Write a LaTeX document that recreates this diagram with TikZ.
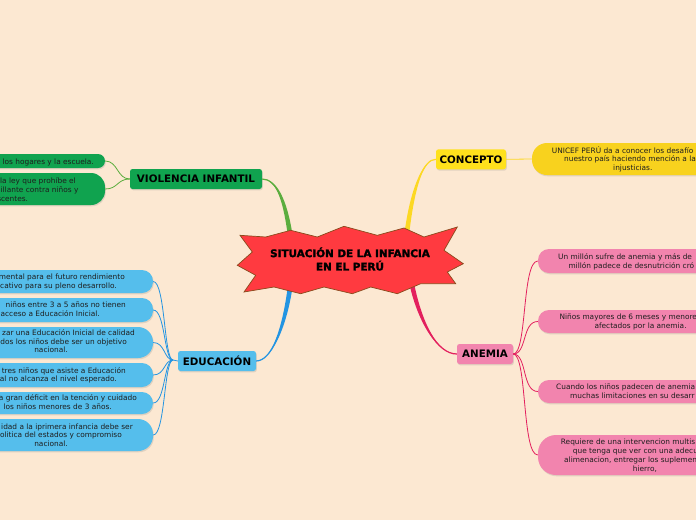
\documentclass[tikz,border=0pt]{standalone}
\usepackage{fontspec}
\setmainfont{DejaVu Sans}
\newfontfamily\starfont{DejaVu Sans}[BoldFeatures={FakeBold=2.2}]
\usetikzlibrary{shadows,calc}
\definecolor{bgc}{HTML}{FCE8D2}
\definecolor{gnode}{HTML}{10A34F}
\definecolor{gline}{HTML}{5BAD3E}
\definecolor{bnode}{HTML}{55BEEC}
\definecolor{bline}{HTML}{2394E2}
\definecolor{ynode}{HTML}{FFE11C}
\definecolor{yleaf}{HTML}{F8D21E}
\definecolor{yline}{HTML}{FCD823}
\definecolor{pnode}{HTML}{F284AE}
\definecolor{pline}{HTML}{E3205E}
\definecolor{starfill}{HTML}{FF3A40}
\definecolor{starline}{HTML}{8A4A1C}
\definecolor{txtc}{HTML}{1E1E1E}
\newcommand\Ltxt[4]{\node[txt,anchor=base east] (#1) at (#2,#3) {#4};}
\newcommand\Rtxt[4]{\node[txt,anchor=base west] (#1) at (#2,#3) {#4};}
\begin{document}
\begin{tikzpicture}[x=1pt,y=-1pt,
  shad/.style={drop shadow={opacity=0.22,shadow xshift=0.8pt,shadow yshift=-1.3pt}},
  leaf/.style={inner sep=0pt,shad},
  branch/.style={inner sep=0pt,rounded corners=2.5pt,shad,text=black,
    font=\fontsize{10.3}{12}\selectfont\bfseries},
  txt/.style={inner sep=0pt,text=txtc,font=\fontsize{7.4}{8}\selectfont},
  thin/.style={line width=0.8pt}]
\useasboundingbox (0,0) rectangle (696,520);
\fill[bgc] (0,0) rectangle (696,520);
\clip (0,0) rectangle (696,520);

% branch nodes
\node[branch,fill=gnode,minimum width=132pt,minimum height=20pt] (vio) at (196,179) {VIOLENCIA INFANTIL};
\node[branch,fill=bnode,minimum width=78pt,minimum height=20pt] (edu) at (217,361) {EDUCACIÓN};
\node[branch,fill=ynode,minimum width=70pt,minimum height=20pt] (co) at (471,159.3) {CONCEPTO};
\node[branch,fill=pnode,minimum width=56pt,minimum height=20pt] (an) at (485,354) {ANEMIA};

% star attachment points
\coordinate (sG) at (290,234);
\coordinate (sY) at (407,232);
\coordinate (sB) at (290,288);
\coordinate (sP) at (412,285);
\coordinate (ej) at (173,360);

% thick tapered connectors
\fill[gline] (vio.east) .. controls (276,179) and (283,200) .. ($(sG)+(-2.4,0)$) -- ($(sG)+(2.4,0)$) .. controls (287,200) and (277,178.5) .. (vio.east) -- cycle;
\draw[gline,line width=1.2pt] (vio.east) .. controls (276,179) and (285,200) .. (sG);
\fill[yline] (co.west) .. controls (424,159) and (411,185) .. ($(sY)+(-2.4,0)$) -- ($(sY)+(2.4,0)$) .. controls (415,185) and (424,159.5) .. (co.west) -- cycle;
\draw[yline,line width=1.2pt] (co.west) .. controls (424,159) and (413,185) .. (sY);
\fill[bline] (edu.east) .. controls (271,361) and (282,330) .. ($(sB)+(-2.4,0)$) -- ($(sB)+(2.4,0)$) .. controls (286,330) and (271,360.5) .. (edu.east) -- cycle;
\draw[bline,line width=1.2pt] (edu.east) .. controls (271,361) and (284,330) .. (sB);
\fill[pline] (an.west) .. controls (437,354) and (418,322) .. ($(sP)+(-2.4,0)$) -- ($(sP)+(2.4,0)$) .. controls (422,322) and (437,353.5) .. (an.west) -- cycle;
\draw[pline,line width=1.2pt] (an.west) .. controls (437,354) and (420,322) .. (sP);

% star
\filldraw[fill=starfill,draw=starline,line width=0.7pt]
 (240,235.3) -- (265.7,237) -- (290.7,230.3) -- (317.3,237) -- (344,226.3)
 -- (377.3,235.3) -- (404,228) -- (424,237) -- (457.3,227) -- (444,250.3)
 -- (463.3,263.7) -- (447.3,272) -- (455.7,283.7) -- (420.7,283.7)
 -- (397.3,293.7) -- (370.7,287) -- (352.3,293.7) -- (324,287)
 -- (300.7,293.7) -- (274,287) -- (244,292) -- (255.7,275.3)
 -- (237.3,265.3) -- (252.3,252) -- cycle;
\node[inner sep=0pt,align=center,text=black,font=\starfont\bfseries\fontsize{10.4}{13.3}\selectfont] (ctr) at (350,259) {SITUACIÓN DE LA INFANCIA\\EN EL PERÚ};

% violence leaves
\node[leaf,fill=gnode,rounded corners=7pt,minimum width=145pt,minimum height=14pt] (v1) at (32.5,161) {};
\node[leaf,fill=gnode,rounded corners=14pt,minimum width=145pt,minimum height=32pt] (v2) at (32.5,189) {};
\draw[gline,thin] (v1.east) .. controls (118,161) and (117,179) .. (vio.west);
\draw[gline,thin] (v2.east) .. controls (118,189) and (117,179) .. (vio.west);
\Ltxt{v1a}{94}{164}{los hogares y la escuela.}
\Ltxt{v2a}{76}{183}{la ley que prohíbe el}
\Ltxt{v2b}{78.7}{192.3}{illante contra niños y}
\Ltxt{v2c}{28.3}{201}{scentes.}

% education leaves
\node[leaf,fill=bnode,rounded corners=11pt,minimum width=193pt,minimum height=23pt] (e1) at (56.5,281.5) {};
\node[leaf,fill=bnode,rounded corners=11pt,minimum width=193pt,minimum height=24pt] (e2) at (56.5,310) {};
\node[leaf,fill=bnode,rounded corners=15pt,minimum width=193pt,minimum height=31pt] (e3) at (56.5,342.5) {};
\node[leaf,fill=bnode,rounded corners=11pt,minimum width=193pt,minimum height=24pt] (e4) at (56.5,375) {};
\node[leaf,fill=bnode,rounded corners=11pt,minimum width=193pt,minimum height=22pt] (e5) at (56.5,403) {};
\node[leaf,fill=bnode,rounded corners=15pt,minimum width=193pt,minimum height=32pt] (e6) at (56.5,435) {};
\draw[bline,thin] (edu.west) -- (ej);
\foreach \n in {e1,e2,e3,e4,e5,e6}{
  \draw[bline,thin] (ej) .. controls +(-9,0) and +(12,0) .. (\n.east);
}
\Ltxt{e1a}{125}{279.5}{mental para el futuro rendimiento}
\Ltxt{e1b}{117}{288.5}{cativo para su pleno desarrollo.}
\Ltxt{e2a}{126}{307.5}{niños entre 3 a 5 años no tienen}
\Ltxt{e2b}{100}{316.5}{acceso a Educación Inicial.}
\Ltxt{e3a}{135}{335}{zar una Educación Inicial de calidad}
\Ltxt{e3b}{127}{344}{dos los niños debe ser un objetivo}
\Ltxt{e3c}{68}{352.5}{nacional.}
\Ltxt{e4a}{126}{373}{tres niños que asiste a Educación}
\Ltxt{e4b}{117}{381.5}{al no alcanza el nivel esperado.}
\Ltxt{e5a}{137}{400.5}{a gran déficit en la tención y cuidado}
\Ltxt{e5b}{112}{409.5}{los niños menores de 3 años.}
\Ltxt{e6a}{133}{429}{idad a la iprimera infancia debe ser}
\Ltxt{e6b}{122}{437.5}{olitica del estados y compromiso}
\Ltxt{e6c}{68}{446.5}{nacional.}

% concept leaf
\node[leaf,fill=yleaf,rounded corners=15pt,minimum width=208pt,minimum height=32pt] (c1) at (636,159) {};
\draw[yline,thin] (co.east) -- (c1.west);
\Rtxt{c1a}{551.7}{153}{UNICEF PERÚ da a conocer los desafío}
\Rtxt{c1b}{564}{161.6}{nuestro país haciendo mención a la}
\Rtxt{c1c}{613}{170.6}{injusticias.}

% anemia leaves
\node[leaf,fill=pnode,rounded corners=11pt,minimum width=202pt,minimum height=24pt] (a1) at (639,261) {};
\node[leaf,fill=pnode,rounded corners=11pt,minimum width=202pt,minimum height=23pt] (a2) at (639,321.5) {};
\node[leaf,fill=pnode,rounded corners=11pt,minimum width=202pt,minimum height=23pt] (a3) at (639,391.5) {};
\node[leaf,fill=pnode,rounded corners=18pt,minimum width=202pt,minimum height=40pt] (a4) at (639,455) {};
\foreach \n in {a1,a2,a3,a4}{
  \draw[pline,thin] (an.east) .. controls +(14,0) and +(-16,0) .. (\n.west);
}
\Rtxt{a1a}{558}{259.6}{Un millón sufre de anemia y más de}
\Rtxt{a1b}{568.3}{268.3}{millón padece de desnutrición cró}
\Rtxt{a2a}{559.3}{319.6}{Niños mayores de 6 meses y menore}
\Rtxt{a2b}{594.3}{328.3}{afectados por la anemia.}
\Rtxt{a3a}{556}{389.6}{Cuando los niños padecen de anemia}
\Rtxt{a3b}{570}{398.3}{muchas limitaciones en su desarr}
\Rtxt{a4a}{560.7}{444.6}{Requiere de una intervencion multis}
\Rtxt{a4b}{572.7}{453.3}{que tenga que ver con una adecu}
\Rtxt{a4c}{564}{462.3}{alimenacion, entregar los suplemen}
\Rtxt{a4d}{632.7}{471.3}{hierro,}
\end{tikzpicture}
\end{document}
